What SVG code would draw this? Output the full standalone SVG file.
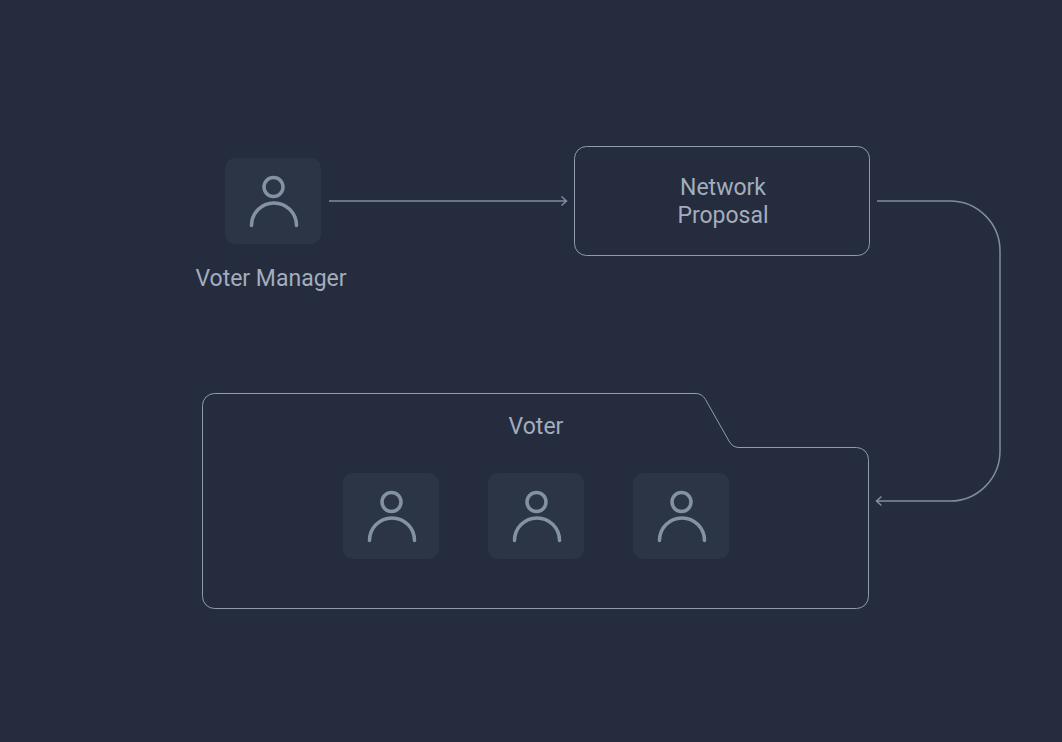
<svg xmlns="http://www.w3.org/2000/svg" width="1062" height="742" viewBox="0 0 1062 742">
<defs>
<style>
text{font-family:Roboto,"Liberation Sans",sans-serif;font-size:23px;fill:#a3adbd;text-anchor:middle}
.o{fill:none;stroke:#8f9bb0;stroke-width:1}
.c{fill:none;stroke:#7f8ca2;stroke-width:1.5}
.t{fill:#2c3545}
.i{fill:none;stroke:#8492a6;stroke-width:3.500;stroke-linecap:round}
</style>
<g id="person">
<rect class="t" width="96" height="86" rx="10"/>
<circle class="i" cx="48.500" cy="29" r="9.500"/>
<path class="i" d="M26.500 67.500A22.500 22.500 0 0 1 71.500 67.500"/>
</g>
</defs>
<rect width="1062" height="742" fill="#242c3d"/>
<g id="connectors">
<path class="c" d="M329 201H566M561.500 196.500L566.500 201L561.500 205.500"/>
<path class="c" d="M877 201H950A50 50 0 0 1 1000 251V451A50 50 0 0 1 950 501H877M881.500 496.500L876.500 501L881.500 505.500"/>
</g>
<g id="voter-manager"><use href="#person" x="225" y="158"/><text x="271" y="286">Voter Manager</text></g>
<g id="network-proposal"><rect class="o" x="574.500" y="146.500" width="295" height="109" rx="12"/><text x="723" y="195">Network</text><text x="723" y="223">Proposal</text></g>
<g id="voter-group"><path class="o" d="M214.500 393.500H696Q702 393.500 705.500 399.500L729 441Q732.500 447.500 739 447.500H856.500A12 12 0 0 1 868.500 459.500V596.500A12 12 0 0 1 856.500 608.500H214.500A12 12 0 0 1 202.500 596.500V405.500A12 12 0 0 1 214.500 393.500Z"/><text x="536" y="434">Voter</text></g>
<g id="voter-1"><use href="#person" x="343" y="473"/></g>
<g id="voter-2"><use href="#person" x="488" y="473"/></g>
<g id="voter-3"><use href="#person" x="633" y="473"/></g>
</svg>
